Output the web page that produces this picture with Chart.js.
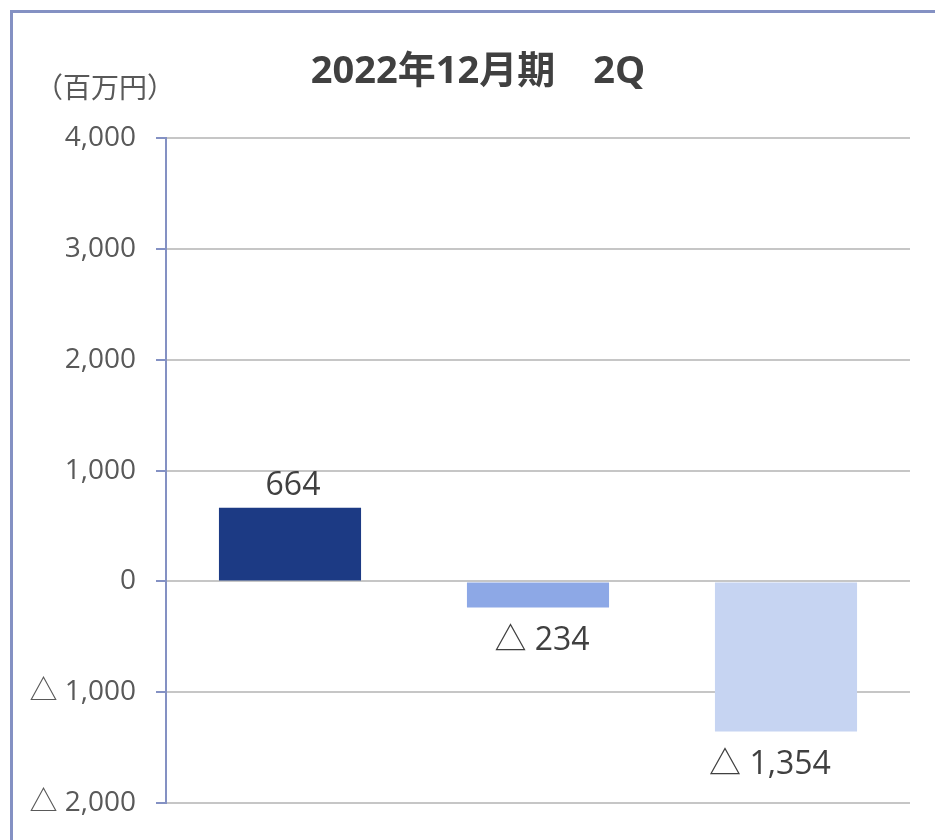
<!DOCTYPE html>
<html>
<head>
<meta charset="utf-8">
<script src="https://cdn.jsdelivr.net/npm/chart.js@4/dist/chart.umd.min.js"></script>
<style>
  html, body { margin: 0; padding: 0; background: #ffffff; }
  #wrap { position: relative; width: 935px; height: 840px; }
</style>
</head>
<body>
<div id="wrap"><canvas id="c" width="935" height="840"></canvas></div>
<script>
// ---- data ----
const chartTitle = '2022年12月期\u30002Q';
const unitLabel = '（百万円）';
const categories = ['A', 'B', 'C'];
const values = [664, -234, -1354];
const barColors = ['#1c3a84', '#8da8e6', '#c6d4f2'];
const yTicks = [-2000, -1000, 0, 1000, 2000, 3000, 4000];

const FONT = "'Open Sans', 'Noto Sans CJK JP', sans-serif";
const LABEL_DX = [3, 4, -16];

function fmt(v) {
  const s = Math.abs(v).toLocaleString('en-US');
  return v < 0 ? '△ ' + s : s;
}

const decor = {
  id: 'decor',
  beforeDraw(chart) {
    const ctx = chart.ctx;
    ctx.save();
    ctx.fillStyle = '#ffffff';
    ctx.fillRect(0, 0, chart.width, chart.height);
    ctx.strokeStyle = '#8491c3';
    ctx.lineWidth = 3;
    ctx.beginPath();
    ctx.moveTo(11.5, chart.height);
    ctx.lineTo(11.5, 11.5);
    ctx.lineTo(chart.width, 11.5);
    ctx.stroke();
    ctx.restore();
  },
  afterDraw(chart) {
    const ctx = chart.ctx;
    ctx.save();
    ctx.fillStyle = '#404040';
    ctx.textAlign = 'center';
    ctx.textBaseline = 'middle';
    ctx.font = "bold 38px " + FONT;
    ctx.fillText(chartTitle, 478, 72);
    ctx.fillStyle = '#595959';
    ctx.font = "28px " + FONT;
    ctx.fillText(unitLabel, 105, 90);
    // data labels
    const meta = chart.getDatasetMeta(0);
    ctx.fillStyle = '#404040';
    ctx.font = "32px " + FONT;
    meta.data.forEach((bar, i) => {
      const v = values[i];
      const y = v >= 0 ? bar.y - 22 : bar.y + 33;
      ctx.fillText(fmt(v), bar.x + LABEL_DX[i], y);
    });
    ctx.restore();
  }
};

new Chart(document.getElementById('c'), {
  type: 'bar',
  data: {
    labels: categories,
    datasets: [{
      data: values,
      backgroundColor: barColors,
      borderWidth: 0,
      barPercentage: 0.573,
      categoryPercentage: 1.0
    }]
  },
  options: {
    responsive: false,
    animation: false,
    devicePixelRatio: 1,
    layout: { padding: { top: 138, right: 25, bottom: 36, left: 0 } },
    plugins: { legend: { display: false }, tooltip: { enabled: false }, title: { display: false } },
    scales: {
      x: { display: false },
      y: {
        min: yTicks[0],
        max: yTicks[yTicks.length - 1],
        afterBuildTicks(scale) { scale.ticks = yTicks.map(v => ({ value: v })); },
        afterFit(scale) { scale.width = 166; },
        border: { display: true, color: '#8491c3', width: 2 },
        grid: { color: '#c6c6c6', lineWidth: 2, drawTicks: true, tickLength: 10, tickColor: '#8491c3', tickWidth: 2 },
        ticks: {
          padding: 20,
          color: '#595959',
          font: { family: FONT, size: 28 },
          callback: v => fmt(v)
        }
      }
    }
  },
  plugins: [decor]
});
</script>
</body>
</html>
